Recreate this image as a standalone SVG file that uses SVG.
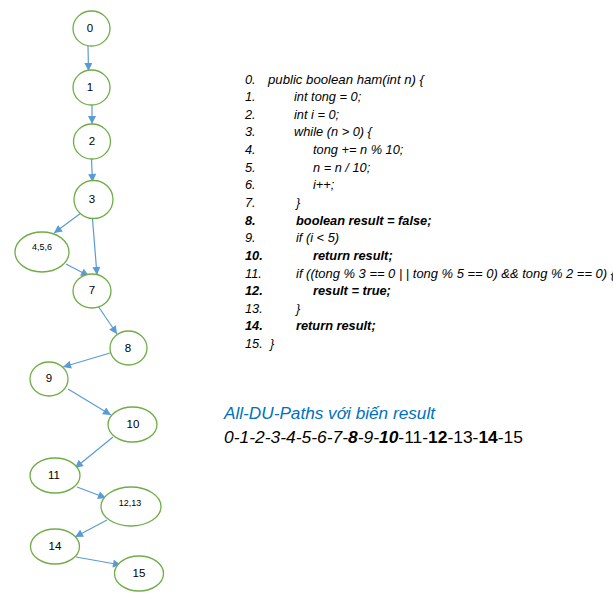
<svg xmlns="http://www.w3.org/2000/svg" width="613" height="608" viewBox="0 0 613 608">
<defs>
<marker id="arr" viewBox="0 0 10 10" refX="10" refY="5" markerWidth="9" markerHeight="8" markerUnits="userSpaceOnUse" orient="auto">
<path d="M0,0 L10,5 L0,10 z" fill="#5B9BD5"/>
</marker>
<style>
.n{fill:#fff;stroke:#70AD47;stroke-width:1.3}
.e{stroke:#5B9BD5;stroke-width:1.2;fill:none;marker-end:url(#arr)}
.l{font-family:"Liberation Sans",Arial,sans-serif;font-size:11.5px;fill:#000;text-anchor:middle;dominant-baseline:central}
.s{font-size:9px}
.c{font-family:"Liberation Sans",Arial,sans-serif;font-size:12.8px;font-style:italic;fill:#000}
.b{font-weight:bold}
.t{font-family:"Liberation Sans",Arial,sans-serif;font-size:16px}
</style>
</defs>
<rect width="613" height="608" fill="#fff"/>
<g id="connectors">
<line class="e" x1="88" y1="46" x2="88.5" y2="71"/>
<line class="e" x1="92" y1="105" x2="92" y2="124"/>
<line class="e" x1="91.5" y1="159" x2="92.5" y2="182"/>
<line class="e" x1="81" y1="213" x2="54" y2="233"/>
<line class="e" x1="92.5" y1="219" x2="97" y2="275"/>
<line class="e" x1="66" y1="264" x2="89" y2="276"/>
<line class="e" x1="98" y1="306" x2="117" y2="334"/>
<line class="e" x1="110" y1="353" x2="63" y2="367"/>
<line class="e" x1="68" y1="389" x2="111" y2="415"/>
<line class="e" x1="113" y1="437" x2="75" y2="468"/>
<line class="e" x1="77" y1="487" x2="106" y2="498"/>
<line class="e" x1="107" y1="520" x2="75" y2="537"/>
<line class="e" x1="76" y1="557" x2="121" y2="565"/>
</g>
<g id="n0"><ellipse class="n" cx="91.5" cy="28.5" rx="18.5" ry="17.5"/><text class="l" x="90" y="28">0</text></g>
<g id="n1"><ellipse class="n" cx="91.5" cy="87.5" rx="18.5" ry="17.5"/><text class="l" x="90" y="87">1</text></g>
<g id="n2"><ellipse class="n" cx="92" cy="141.5" rx="18.5" ry="17.5"/><text class="l" x="92" y="141">2</text></g>
<g id="n3"><ellipse class="n" cx="93.5" cy="199.5" rx="19.5" ry="19"/><text class="l" x="92" y="199">3</text></g>
<g id="n456"><ellipse class="n" cx="42" cy="252" rx="27" ry="20"/><text class="l s" x="42" y="247">4,5,6</text></g>
<g id="n7"><ellipse class="n" cx="92" cy="291" rx="19" ry="17"/><text class="l" x="92" y="290">7</text></g>
<g id="n8"><ellipse class="n" cx="128.5" cy="348" rx="18.5" ry="17"/><text class="l" x="128" y="348">8</text></g>
<g id="n9"><ellipse class="n" cx="49" cy="379" rx="19" ry="17"/><text class="l" x="49" y="378">9</text></g>
<g id="n10"><ellipse class="n" cx="132.5" cy="424.5" rx="24.5" ry="17.5"/><text class="l" x="133" y="424">10</text></g>
<g id="n11"><ellipse class="n" cx="55" cy="475.5" rx="25" ry="17.5"/><text class="l" x="54" y="475">11</text></g>
<g id="n1213"><ellipse class="n" cx="131" cy="506.5" rx="30" ry="19.5"/><text class="l s" x="130" y="503">12,13</text></g>
<g id="n14"><ellipse class="n" cx="55" cy="546.5" rx="24.5" ry="17.5"/><text class="l" x="55" y="546">14</text></g>
<g id="n15"><ellipse class="n" cx="139" cy="573.5" rx="24.5" ry="17.5"/><text class="l" x="139" y="573">15</text></g>
<g id="code">
<text class="c" x="245" y="83.5">0.</text><text class="c" x="268" y="83.5" textLength="156" lengthAdjust="spacingAndGlyphs">public boolean ham(int n) {</text>
<text class="c" x="245" y="101">1.</text><text class="c" x="294" y="101">int tong = 0;</text>
<text class="c" x="245" y="118.5">2.</text><text class="c" x="294" y="118.5">int i = 0;</text>
<text class="c" x="245" y="136">3.</text><text class="c" x="294" y="136">while (n &gt; 0) {</text>
<text class="c" x="245" y="154">4.</text><text class="c" x="313" y="154">tong += n % 10;</text>
<text class="c" x="245" y="171.5">5.</text><text class="c" x="313" y="171.5">n = n / 10;</text>
<text class="c" x="245" y="189">6.</text><text class="c" x="313" y="189">i++;</text>
<text class="c" x="245" y="207">7.</text><text class="c" x="296" y="207">}</text>
<text class="c b" x="245" y="224.5">8.</text><text class="c b" x="296" y="224.5">boolean result = false;</text>
<text class="c" x="245" y="242">9.</text><text class="c" x="296" y="242">if (i &lt; 5)</text>
<text class="c b" x="245" y="260">10.</text><text class="c b" x="313" y="260">return result;</text>
<text class="c" x="245" y="277.5">11.</text><text class="c" x="296" y="277.5" textLength="319" lengthAdjust="spacingAndGlyphs">if ((tong % 3 == 0 | | tong % 5 == 0) &amp;&amp; tong % 2 == 0) {</text>
<text class="c b" x="245" y="295">12.</text><text class="c b" x="313" y="295">result = true;</text>
<text class="c" x="245" y="312.5">13.</text><text class="c" x="296" y="312.5">}</text>
<text class="c b" x="245" y="330">14.</text><text class="c b" x="296" y="330">return result;</text>
<text class="c" x="245" y="347.5">15.</text><text class="c" x="270" y="347.5">}</text>
</g>
<g id="paths">
<text class="t" x="224" y="419" fill="#0070C0" font-style="italic" textLength="211" lengthAdjust="spacingAndGlyphs">All-DU-Paths với biến result</text>
<text class="t" x="224" y="443" fill="#000" textLength="299" lengthAdjust="spacingAndGlyphs"><tspan font-style="italic">0-1-2-3-4-5-6-7-</tspan><tspan font-style="italic" font-weight="bold">8</tspan><tspan font-style="italic">-9-</tspan><tspan font-style="italic" font-weight="bold">10</tspan><tspan>-11-</tspan><tspan font-weight="bold">12</tspan><tspan>-13-</tspan><tspan font-weight="bold">14</tspan><tspan>-15</tspan></text>
</g>
</svg>
